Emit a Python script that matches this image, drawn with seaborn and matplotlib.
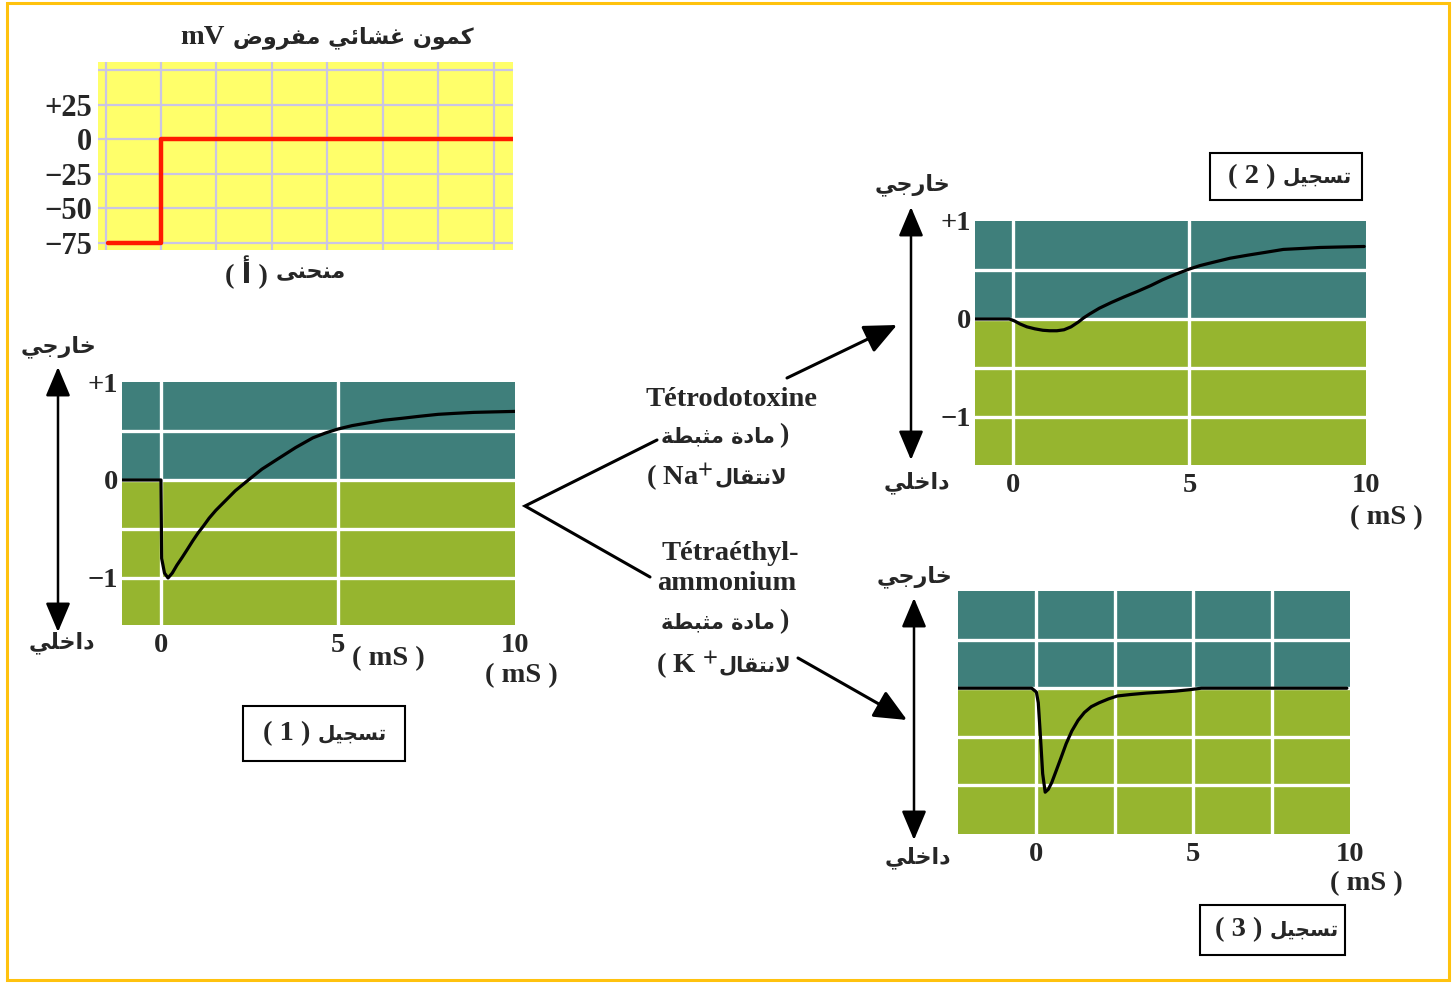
import matplotlib
matplotlib.use("Agg")
import matplotlib.pyplot as plt
import seaborn as sns
from matplotlib.patches import Rectangle

# ---------------------------------------------------------------- data
# imposed membrane potential (curve A), mV
step_time = [-0.96, 0.0, 0.0, 6.35]
step_mv = [-75, -75, 0, 0]
step_ticks = [25, 0, -25, -50, -75]
step_ticklabels = ["+25", "0", "\u221225", "\u221250", "\u221275"]

# recording 1: control
rec1_t = [-1.1, 0.0, 0.02, 0.1, 0.2, 0.32, 0.45, 0.6, 0.76, 0.9, 1.05, 1.2, 1.36, 1.55,
          1.77, 2.1, 2.47, 2.85, 3.28, 3.8, 4.29, 4.65, 5.0, 5.4, 5.8, 6.3, 6.82, 7.3,
          7.83, 8.3, 8.84, 9.4, 10.0]
rec1_v = [0.0, 0.0, -0.8, -0.95, -1.0, -0.95, -0.87, -0.79, -0.70, -0.62, -0.54, -0.47,
          -0.39, -0.31, -0.23, -0.11, 0.0, 0.11, 0.21, 0.33, 0.43, 0.48, 0.52, 0.555,
          0.58, 0.61, 0.63, 0.65, 0.67, 0.68, 0.69, 0.695, 0.70]

# recording 2: tetrodotoxine (Na+ transport blocked)
rec2_t = [-1.07, -0.1, 0.05, 0.2, 0.4, 0.62, 0.85, 1.04, 1.25, 1.45, 1.65, 1.86, 2.0,
          2.17, 2.45, 2.8, 3.15, 3.52, 3.9, 4.24, 4.6, 5.0, 5.3, 5.69, 6.15, 6.63, 7.15,
          7.66, 8.2, 8.7, 9.3, 9.95]
rec2_v = [0.0, 0.0, -0.02, -0.05, -0.08, -0.10, -0.115, -0.12, -0.12, -0.11, -0.08,
          -0.03, 0.01, 0.05, 0.11, 0.17, 0.225, 0.28, 0.34, 0.40, 0.455, 0.51, 0.545,
          0.58, 0.62, 0.65, 0.68, 0.71, 0.72, 0.73, 0.735, 0.74]

# recording 3: tetraethylammonium (K+ transport blocked)
rec3_t = [-2.5, -0.15, 0.0, 0.06, 0.12, 0.2, 0.28, 0.38, 0.49, 0.63, 0.78, 0.95, 1.13,
          1.33, 1.53, 1.75, 2.0, 2.3, 2.58, 3.0, 3.51, 4.0, 4.44, 4.9, 5.26, 9.9]
rec3_v = [0.0, 0.0, -0.04, -0.15, -0.45, -0.88, -1.07, -1.04, -0.97, -0.85, -0.72,
          -0.57, -0.44, -0.33, -0.25, -0.19, -0.15, -0.11, -0.08, -0.065, -0.05, -0.04,
          -0.03, -0.015, 0.0, 0.0]

time_ticks = [0, 5, 10]
time_ticklabels = ["0", "5", "10"]
rec_yticks = [1, 0, -1]
rec_yticklabels = ["+1", "0", "\u22121"]

# ---------------------------------------------------------------- Arabic shaping
# presentation forms: (isolated, final, initial, medial)
AR_FORMS = {
    "\u0623": ("\uFE83", "\uFE84"),
    "\u0626": ("\uFE89", "\uFE8A", "\uFE8B", "\uFE8C"),
    "\u0627": ("\uFE8D", "\uFE8E"),
    "\u0628": ("\uFE8F", "\uFE90", "\uFE91", "\uFE92"),
    "\u0629": ("\uFE93", "\uFE94"),
    "\u062A": ("\uFE95", "\uFE96", "\uFE97", "\uFE98"),
    "\u062B": ("\uFE99", "\uFE9A", "\uFE9B", "\uFE9C"),
    "\u062C": ("\uFE9D", "\uFE9E", "\uFE9F", "\uFEA0"),
    "\u062D": ("\uFEA1", "\uFEA2", "\uFEA3", "\uFEA4"),
    "\u062E": ("\uFEA5", "\uFEA6", "\uFEA7", "\uFEA8"),
    "\u062F": ("\uFEA9", "\uFEAA"),
    "\u0631": ("\uFEAD", "\uFEAE"),
    "\u0633": ("\uFEB1", "\uFEB2", "\uFEB3", "\uFEB4"),
    "\u0634": ("\uFEB5", "\uFEB6", "\uFEB7", "\uFEB8"),
    "\u0636": ("\uFEBD", "\uFEBE", "\uFEBF", "\uFEC0"),
    "\u0637": ("\uFEC1", "\uFEC2", "\uFEC3", "\uFEC4"),
    "\u063A": ("\uFECD", "\uFECE", "\uFECF", "\uFED0"),
    "\u0641": ("\uFED1", "\uFED2", "\uFED3", "\uFED4"),
    "\u0642": ("\uFED5", "\uFED6", "\uFED7", "\uFED8"),
    "\u0643": ("\uFED9", "\uFEDA", "\uFEDB", "\uFEDC"),
    "\u0644": ("\uFEDD", "\uFEDE", "\uFEDF", "\uFEE0"),
    "\u0645": ("\uFEE1", "\uFEE2", "\uFEE3", "\uFEE4"),
    "\u0646": ("\uFEE5", "\uFEE6", "\uFEE7", "\uFEE8"),
    "\u0648": ("\uFEED", "\uFEEE"),
    "\u0649": ("\uFEEF", "\uFEF0"),
    "\u064A": ("\uFEF1", "\uFEF2", "\uFEF3", "\uFEF4"),
}
LAM_ALEF = {"\u0627": ("\uFEFB", "\uFEFC"), "\u0623": ("\uFEF7", "\uFEF8")}


def ar(text):
    """Join Arabic letters and return them in display (left-to-right) order."""
    chars = list(text)
    n = len(chars)
    res = []
    i = 0
    while i < n:
        c = chars[i]
        if c not in AR_FORMS:
            res.append(c)
            i += 1
            continue
        prev = chars[i - 1] if i > 0 else ""
        link_prev = prev in AR_FORMS and len(AR_FORMS[prev]) == 4
        if c == "\u0644" and i + 1 < n and chars[i + 1] in LAM_ALEF:
            iso, fin = LAM_ALEF[chars[i + 1]]
            res.append(fin if link_prev else iso)
            i += 2
            continue
        nxt = chars[i + 1] if i + 1 < n else ""
        forms = AR_FORMS[c]
        link_next = len(forms) == 4 and nxt in AR_FORMS
        if link_prev and link_next:
            res.append(forms[3])
        elif link_prev:
            res.append(forms[1])
        elif link_next:
            res.append(forms[2])
        else:
            res.append(forms[0])
        i += 1
    return "".join(reversed(res))


# ---------------------------------------------------------------- style
sns.set_style("white")
plt.rcParams["font.family"] = ["Liberation Serif", "DejaVu Sans"]
plt.rcParams["font.weight"] = "bold"
plt.rcParams["mathtext.fontset"] = "stix"

W, H = 1455, 983
TEAL = "#3F7F7B"
GREEN = "#96B52F"
YELLOW = "#FFFF6A"
LAVENDER = "#CAC5E4"
LATIN = ["Liberation Serif", "DejaVu Serif", "DejaVu Sans"]
NUM = dict(family=LATIN, weight="bold", size=20.5)
NUM_A = dict(family=LATIN, weight="bold", size=22)
ARF = dict(family=["DejaVu Sans"], weight="bold", size=16)

fig = plt.figure(figsize=(W / 100, H / 100), dpi=100)
fig.patch.set_facecolor("white")


def add_ax(left, top, right, bottom):
    return fig.add_axes([left / W, 1 - bottom / H, (right - left) / W, (bottom - top) / H])


def style_axes(ax):
    for s in ax.spines.values():
        s.set_visible(False)
    ax.set_xlabel("")
    ax.set_ylabel("")
    ax.tick_params(length=0)


# ---------------------------------------------------------------- curve A
axA = add_ax(98, 62, 513, 250)
axA.set_facecolor(YELLOW)
for gx in range(-1, 7):
    axA.axvline(gx, color=LAVENDER, lw=1.6, zorder=1)
for gy in (50, 25, 0, -25, -50, -75):
    axA.axhline(gy, color=LAVENDER, lw=1.6, zorder=1)
sns.lineplot(x=step_time, y=step_mv, ax=axA, sort=False, estimator=None,
             color="#FF1A00", lw=3.2, zorder=3)
axA.set_xlim(-1.137, 6.35)
axA.set_ylim(-80.4, 55.8)
axA.set_xticks([])
axA.set_yticks(step_ticks, step_ticklabels, **NUM_A)
style_axes(axA)
axA.tick_params(axis="y", pad=4)


# ---------------------------------------------------------------- recordings
def recording(box, t, v, xlim, ylim, hlines, vlines, yt):
    ax = add_ax(*box)
    ax.axhspan(0, ylim[1], color=TEAL, lw=0, zorder=0)
    ax.axhspan(ylim[0], 0, color=GREEN, lw=0, zorder=0)
    for gy in hlines:
        ax.axhline(gy, color="white", lw=2.4, zorder=1)
    for gx in vlines:
        ax.axvline(gx, color="white", lw=2.4, zorder=1)
    sns.lineplot(x=t, y=v, ax=ax, sort=False, estimator=None, color="black",
                 lw=2.3, zorder=3)
    ax.lines[-1].set_solid_joinstyle("round")
    ax.set_xlim(*xlim)
    ax.set_ylim(*ylim)
    ax.set_xticks(time_ticks, time_ticklabels, **NUM)
    if yt:
        ax.set_yticks(rec_yticks, rec_yticklabels, **NUM)
    else:
        ax.set_yticks([])
    style_axes(ax)
    ax.tick_params(axis="x", pad=6)
    ax.tick_params(axis="y", pad=3)
    return ax


ax1 = recording((122, 382, 515, 625), rec1_t, rec1_v, (-1.1, 10.0), (-1.48, 1.0),
                (0.5, 0, -0.5, -1), (0, 5), True)
ax2 = recording((975, 221, 1366, 465), rec2_t, rec2_v, (-1.07, 9.95), (-1.49, 1.0),
                (0.5, 0, -0.5, -1), (0, 5), True)
ax3 = recording((958, 591, 1350, 834), rec3_t, rec3_v, (-2.5, 9.9), (-1.5, 1.0),
                (0.5, 0, -0.5, -1), (0, 2.5, 5, 7.5), False)

# ---------------------------------------------------------------- annotations
ov = fig.add_axes([0, 0, 1, 1], zorder=10)
ov.set_xlim(0, W)
ov.set_ylim(H, 0)
ov.axis("off")
ov.patch.set_alpha(0)

# outer frame
ov.add_patch(Rectangle((6.5, 2.5), 1442, 977, fill=False, ec="#FFC20E", lw=2.2))


def mixed(x, y, latin, arabic, gap=6, lsize=20.5, asize=16):
    """Latin part on the left, Arabic part on the right, meeting at x."""
    ov.text(x - gap / 2, y, latin, ha="right", va="center",
            family=LATIN, weight="bold", size=lsize)
    ov.text(x + gap / 2, y, arabic, ha="left", va="center",
            family=["DejaVu Sans"], weight="bold", size=asize)


# titles of curve A
mixed(229, 38, "mV", ar("كمون غشائي مفروض"), gap=8)
mixed(272, 272, "( " + ar("أ") + " )", ar("منحنى"), gap=8)

# outside / inside arrows
for x, y0, y1 in ((58, 367, 632), (911, 207, 460), (914, 598, 840)):
    ov.annotate("", xy=(x, y0), xytext=(x, y1),
                arrowprops=dict(arrowstyle="<|-|>,head_length=0.9,head_width=0.38",
                                mutation_scale=20, lw=1.8, color="black",
                                shrinkA=0, shrinkB=0))
for x, y in ((58, 347), (913, 185), (915, 577)):
    ov.text(x, y, ar("خارجي"), ha="center", va="center", **ARF)
for x, y in ((62, 643), (917, 483), (918, 858)):
    ov.text(x, y, ar("داخلي"), ha="center", va="center", **ARF)

# time unit labels
for x, y in ((388, 659), (521, 676), (1386, 518), (1366, 884)):
    ov.text(x, y, "( mS )", ha="center", va="center", **NUM)

# recording name boxes
for (l, t, r, b), k, split in (((243, 706, 405, 761), "1", 314),
                               ((1210, 153, 1362, 200), "2", 1279),
                               ((1200, 905, 1345, 955), "3", 1266)):
    ov.add_patch(Rectangle((l, t), r - l, b - t, fill=True, fc="white", ec="black", lw=1.5))
    mixed(split, (t + b) / 2, "( " + k + " )", ar("تسجيل"), gap=8, asize=14.5)

# branching lines and arrows to the treated recordings
ov.plot([657, 525, 650], [440, 506, 577], color="black", lw=2.2, solid_joinstyle="miter")
for start, tip in (((787, 378), (897, 325)), ((798, 658), (907, 720))):
    ov.annotate("", xy=tip, xytext=start,
                arrowprops=dict(arrowstyle="-|>,head_length=1.0,head_width=0.45",
                                mutation_scale=20, lw=2.2, color="black",
                                shrinkA=0, shrinkB=0))

# drug labels
inhib = ar("مادة مثبطة")
ov.text(731, 399, "T\u00e9trodotoxine", ha="center", va="center", **NUM)
ov.text(775, 436, inhib, ha="right", va="center", family=["DejaVu Sans"],
        weight="bold", size=15)
ov.text(779, 436, ")", ha="left", va="center", **NUM)
mixed(714, 477, r"( Na$^{\mathbf{+}}$", ar("لانتقال"), gap=0, asize=15)

ov.text(730, 553, "T\u00e9tra\u00e9thyl-", ha="center", va="center", **NUM)
ov.text(727, 584, "ammonium", ha="center", va="center", **NUM)
ov.text(775, 622, inhib, ha="right", va="center", family=["DejaVu Sans"],
        weight="bold", size=15)
ov.text(779, 622, ")", ha="left", va="center", **NUM)
mixed(718, 665, r"( K $^{\mathbf{+}}$", ar("لانتقال"), gap=0, asize=15)

fig.savefig("out.png", dpi=100, facecolor="white")
